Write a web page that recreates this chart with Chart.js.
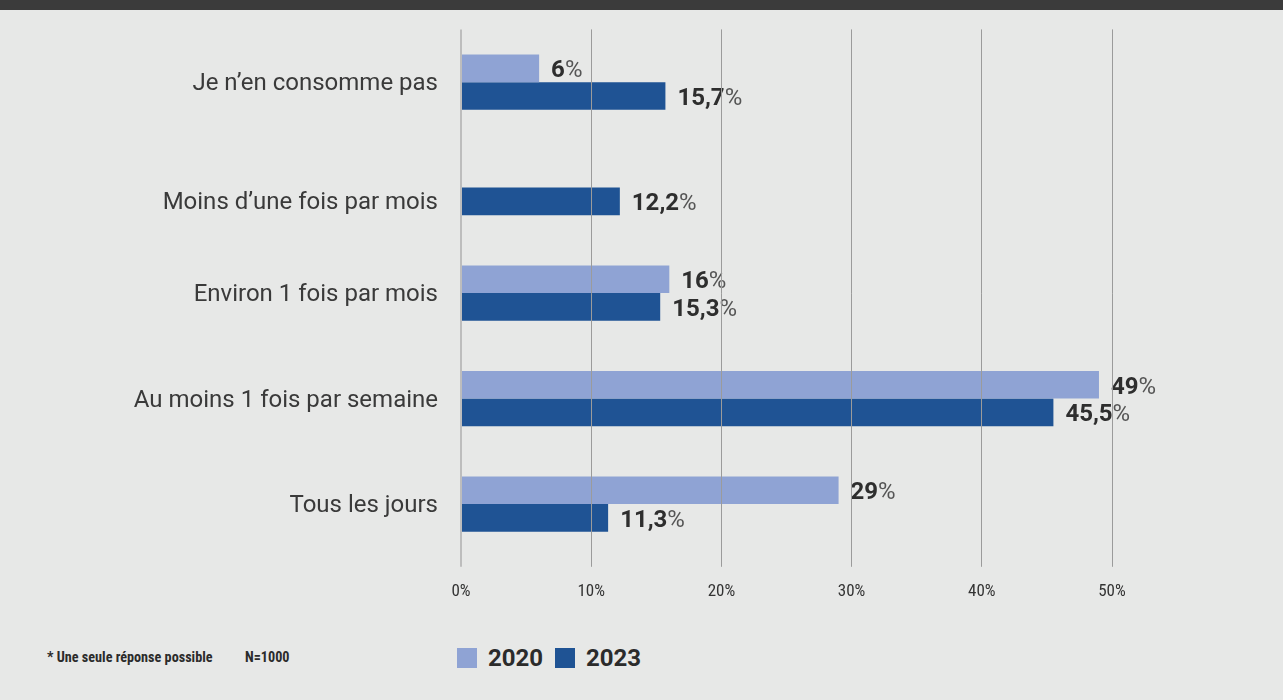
<!DOCTYPE html>
<html lang="fr">
<head>
<meta charset="UTF-8">
<title>Fréquence de consommation</title>
<script src="https://cdn.jsdelivr.net/npm/chart.js"></script>
<style>
  body {
    margin: 0;
    width: 1283px;
    height: 700px;
    background: #e7e8e7;
    font-family: Roboto, sans-serif;
    position: relative;
    overflow: hidden;
  }
  .bandeau {
    position: absolute;
    top: 0; left: 0;
    width: 1283px; height: 10px;
    background: #3b3b3b;
    z-index: 2;
  }
  .graph {
    position: absolute;
    top: 0; left: 0;
    width: 1283px; height: 620px;
  }
  .pied {
    position: absolute;
    top: 645px; left: 0;
    width: 1283px; height: 26px;
    color: #2b2b2b;
  }
  .note {
    position: absolute;
    top: 4px;
    font-family: "Roboto Condensed", "Liberation Sans Narrow", Roboto, sans-serif;
    font-weight: bold;
    font-size: 14.2px;
  }
  .leg {
    position: absolute;
    top: -1px;
    display: flex;
    align-items: center;
    font-weight: bold;
    font-size: 24px;
  }
  .leg span.carre {
    display: inline-block;
    width: 20px; height: 20px;
    margin-right: 11px;
  }
</style>
</head>
<body>
<div class="bandeau"></div>
<div class="graph"><canvas id="graphique"></canvas></div>
<div class="pied">
  <div class="note" style="left:47px">* Une seule réponse possible</div>
  <div class="note" style="left:245px">N=1000</div>
  <div id="legende"></div>
</div>

<script>
const categories = [
  'Je n’en consomme pas',
  'Moins d’une fois par mois',
  'Environ 1 fois par mois',
  'Au moins 1 fois par semaine',
  'Tous les jours'
];
const annees = ['2020', '2023'];
const valeurs2020 = [6, null, 16, 49, 29];
const valeurs2023 = [15.7, 12.2, 15.3, 45.5, 11.3];
const ticksX = [0, 10, 20, 30, 40, 50];
const couleurs = ['#8fa3d4', '#1f5394'];

// étiquettes : nombre en gras + % en normal
const etiquettes = {
  id: 'etiquettes',
  afterDatasetsDraw(chart) {
    const ctx = chart.ctx;
    ctx.save();
    ctx.textBaseline = 'middle';
    chart.data.datasets.forEach((ds, i) => {
      const meta = chart.getDatasetMeta(i);
      meta.data.forEach((barre, j) => {
        const v = ds.data[j];
        if (v === null || v === undefined) return;
        const txt = String(v).replace('.', ',');
        let x = barre.x + 12;
        const y = barre.y + 3;
        ctx.font = 'bold 24px Roboto';
        ctx.fillStyle = '#2e2e2e';
        ctx.fillText(txt, x, y);
        x += ctx.measureText(txt).width;
        ctx.font = '24px Roboto';
        ctx.fillStyle = '#555';
        ctx.fillText('%', x, y);
      });
    });
    ctx.restore();
  }
};

const chart = new Chart(document.getElementById('graphique'), {
  type: 'bar',
  data: {
    labels: categories,
    datasets: [
      { label: annees[0], data: valeurs2020, backgroundColor: couleurs[0] },
      { label: annees[1], data: valeurs2023, backgroundColor: couleurs[1] }
    ]
  },
  options: {
    indexAxis: 'y',
    responsive: true,
    maintainAspectRatio: false,
    animation: false,
    categoryPercentage: 0.523,
    barPercentage: 1,
    layout: { padding: { top: 29.4, right: 171, bottom: 2.8, left: 0 } },
    plugins: {
      legend: { display: false },
      tooltip: { enabled: false }
    },
    scales: {
      x: {
        min: 0,
        max: 50,
        afterBuildTicks: s => { s.ticks = ticksX.map(v => ({ value: v })); },
        grid: {
          z: 1,
          color: c => c.index === 0 ? '#bdbdbd' : '#9b9b9b',
          lineWidth: c => c.index === 0 ? 2 : 1,
          tickLength: 10
        },
        border: { display: false },
        ticks: {
          padding: 15,
          color: '#333',
          font: { family: '"Roboto Condensed", "Liberation Sans Narrow", Roboto', size: 17 },
          callback: v => v + '%'
        }
      },
      y: {
        afterFit: s => { s.width = 461; s.paddingTop = 0; s.paddingBottom = 0; },
        grid: { display: false, drawTicks: false },
        border: { display: false },
        ticks: {
          padding: 23,
          labelOffset: 2,
          color: '#3a3a3a',
          font: { family: 'Roboto', size: 24, lineHeight: 1.1 },
          // la catégorie sans valeur 2020 : libellé aligné sur la barre 2023
          callback: function (v, i) {
            const lab = this.getLabelForValue(v);
            return valeurs2020[i] === null ? ['', lab] : lab;
          }
        }
      }
    }
  },
  plugins: [etiquettes]
});

// légende
const leg = document.getElementById('legende');
let gauche = 457;
chart.data.datasets.forEach((ds, i) => {
  const d = document.createElement('div');
  d.className = 'leg';
  d.style.left = gauche + 'px';
  d.innerHTML = '<span class="carre" style="background:' + ds.backgroundColor + '"></span>' + ds.label;
  leg.appendChild(d);
  gauche += 98;
});
</script>
</body>
</html>
